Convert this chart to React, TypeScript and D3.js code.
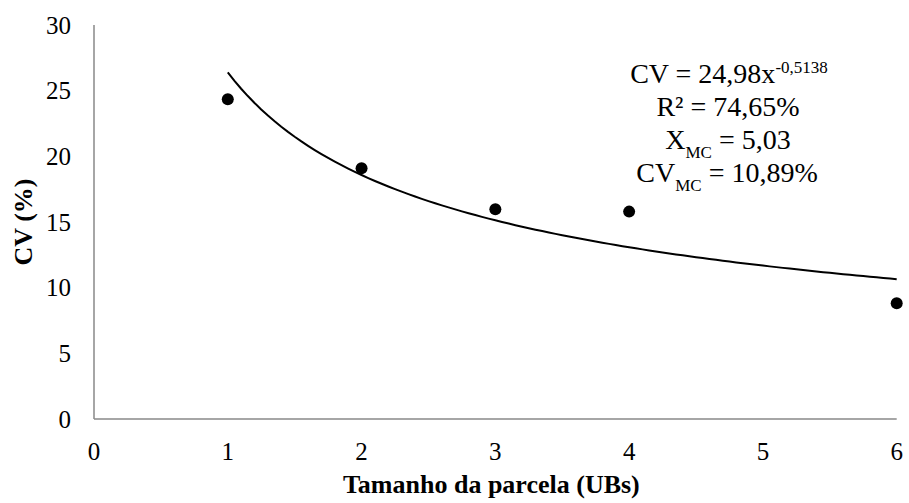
import React, { useRef, useEffect } from 'react';
import * as d3 from 'd3';

// plot size (UBs) vs coefficient of variation (%)
const plotSizes = [1, 2, 3, 4, 6];
const cvValues = [24.35, 19.1, 15.97, 15.79, 8.81];
const xTicks = [0, 1, 2, 3, 4, 5, 6];
const yTicks = [0, 5, 10, 15, 20, 25, 30];
const xTitle = 'Tamanho da parcela (UBs)';
const yTitle = 'CV (%)';

const FONT = 'Liberation Serif, Times New Roman, serif';

const App = () => {
  const chartRef = useRef(null);

  useEffect(() => {
    document.body.style.margin = '0';
    const W = 909;
    const H = 503;
    const margin = { top: 25, right: 12, bottom: 84, left: 94 };

    const svg = d3.select(chartRef.current)
      .attr('width', W)
      .attr('height', H)
      .style('font-family', FONT)
      .html('');

    const x = d3.scaleLinear().domain([0, 6]).range([margin.left, 896.7]);
    const y = d3.scaleLinear().domain([0, 30]).range([H - margin.bottom, margin.top]);

    // axes lines (no tick marks)
    svg.append('line')
      .attr('x1', x(0)).attr('x2', x(0))
      .attr('y1', y(30)).attr('y2', y(0))
      .attr('stroke', '#898989').attr('stroke-width', 1.5);
    svg.append('line')
      .attr('x1', x(0)).attr('x2', x(6))
      .attr('y1', y(0)).attr('y2', y(0))
      .attr('stroke', '#898989').attr('stroke-width', 1.5);

    svg.selectAll('.ytick')
      .data(yTicks)
      .enter().append('text')
      .attr('class', 'ytick')
      .attr('x', 71)
      .attr('y', d => y(d))
      .attr('dy', '0.34em')
      .attr('text-anchor', 'end')
      .style('font-family', FONT)
      .attr('font-size', 25)
      .attr('fill', '#000')
      .text(d => d);

    svg.selectAll('.xtick')
      .data(xTicks)
      .enter().append('text')
      .attr('class', 'xtick')
      .attr('x', d => x(d))
      .attr('y', y(0) + 41)
      .attr('text-anchor', 'middle')
      .style('font-family', FONT)
      .attr('font-size', 25)
      .attr('fill', '#000')
      .text(d => d);

    // axis titles
    svg.append('text')
      .attr('x', (x(0) + x(6)) / 2 - 4)
      .attr('y', 493)
      .attr('text-anchor', 'middle')
      .style('font-family', FONT)
      .attr('font-size', 26)
      .attr('font-weight', 'bold')
      .text(xTitle);

    svg.append('text')
      .attr('transform', `translate(32,${(y(0) + y(30)) / 2}) rotate(-90)`)
      .attr('text-anchor', 'middle')
      .style('font-family', FONT)
      .attr('font-size', 26)
      .attr('font-weight', 'bold')
      .text(yTitle);

    // power trendline, least squares on log-log
    const lx = plotSizes.map(Math.log);
    const ly = cvValues.map(Math.log);
    const mx = d3.mean(lx);
    const my = d3.mean(ly);
    const b = d3.sum(lx, (v, i) => (v - mx) * (ly[i] - my)) / d3.sum(lx, v => (v - mx) ** 2);
    const a = Math.exp(my - b * mx);
    const curve = d3.range(1, 6.001, 0.05).map(t => [t, a * Math.pow(t, b)]);

    svg.append('path')
      .datum(curve)
      .attr('fill', 'none')
      .attr('stroke', '#000')
      .attr('stroke-width', 2)
      .attr('d', d3.line().x(d => x(d[0])).y(d => y(d[1])));

    svg.selectAll('.pt')
      .data(plotSizes)
      .enter().append('circle')
      .attr('class', 'pt')
      .attr('cx', d => x(d))
      .attr('cy', (d, i) => y(cvValues[i]))
      .attr('r', 6)
      .attr('fill', '#000');

    // equation box
    const eq = svg.append('g')
      .style('font-family', FONT)
      .attr('font-size', 28)
      .attr('fill', '#000')
      .attr('text-anchor', 'middle');

    const l1 = eq.append('text').attr('x', 729).attr('y', 83);
    l1.append('tspan').text('CV = 24,98x');
    l1.append('tspan').attr('dy', -10).attr('font-size', 17).text('-0,5138');

    eq.append('text').attr('x', 728).attr('y', 116).text('R² = 74,65%');

    const l3 = eq.append('text').attr('x', 728).attr('y', 148.5);
    l3.append('tspan').text('X');
    l3.append('tspan').attr('dy', 9).attr('font-size', 17).text('MC');
    l3.append('tspan').attr('dy', -9).text(' = 5,03');

    const l4 = eq.append('text').attr('x', 727).attr('y', 181.5);
    l4.append('tspan').text('CV');
    l4.append('tspan').attr('dy', 9).attr('font-size', 17).text('MC');
    l4.append('tspan').attr('dy', -9).text(' = 10,89%');
  }, []);

  return (
    <div style={{ width: 909, height: 503, background: '#fff' }}>
      <svg ref={chartRef} style={{ display: 'block' }}></svg>
    </div>
  );
};

export default App;
